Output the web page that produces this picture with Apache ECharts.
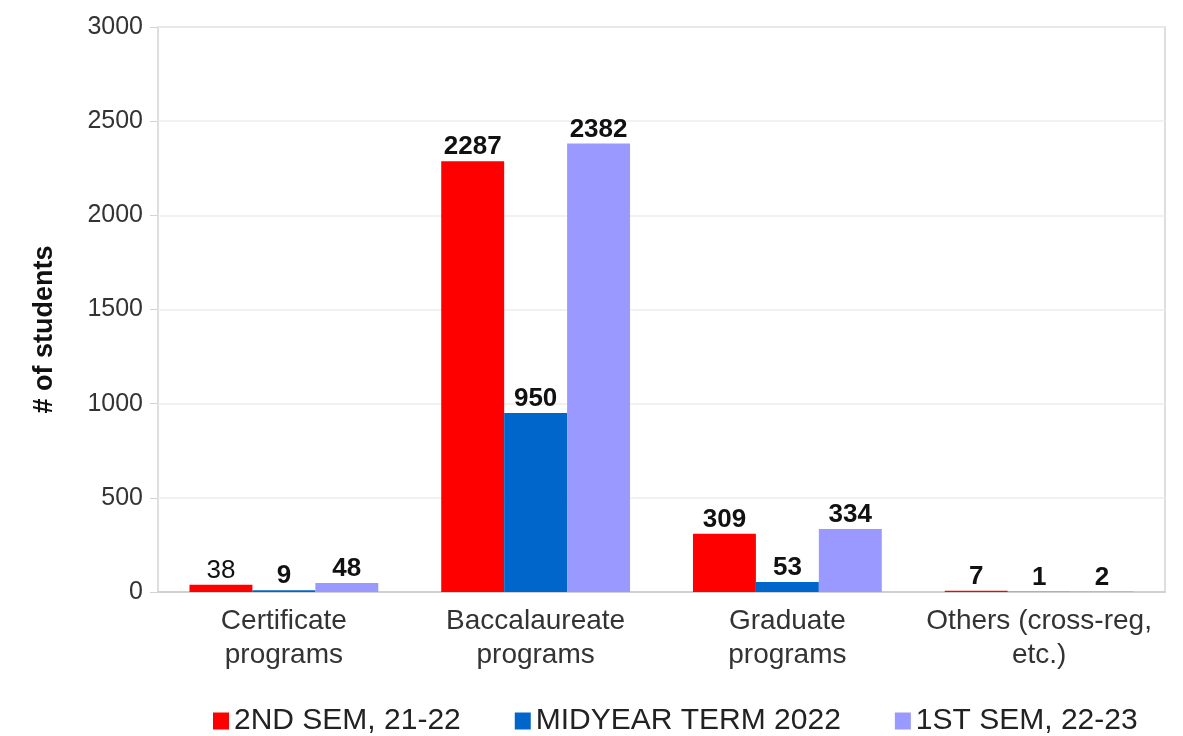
<!DOCTYPE html>
<html>
<head>
<meta charset="utf-8">
<script src="https://cdn.jsdelivr.net/npm/echarts@6/dist/echarts.min.js"></script>
<style>
  html, body { margin: 0; padding: 0; background: #fff; }
  #chart { width: 1183px; height: 736px; }
</style>
</head>
<body>
<div id="chart"></div>
<script>
    var categories = ['Certificate\nprograms', 'Baccalaureate\nprograms', 'Graduate\nprograms', 'Others (cross-reg,\netc.)']
    var seriesNames = ['2ND SEM, 21-22', 'MIDYEAR TERM 2022', '1ST SEM, 22-23']
    var sem2 = [38, 2287, 309, 7]
    var midyear = [9, 950, 53, 1]
    var sem1 = [48, 2382, 334, 2]
    var yTicks = [0, 500, 1000, 1500, 2000, 2500, 3000]
    var colors = ['#FF0000', '#0066CC', '#9999FF']

    var font = '"Liberation Sans", Arial, sans-serif'

    function makeSeries(name, values, color, plainIdx) {
        return {
            name: name,
            type: 'bar',
            barGap: '0%',
            barCategoryGap: '25%',
            itemStyle: { color: color },
            data: values.map(function (v, i) {
                var d = { value: v }
                // the first label is drawn in normal weight in the original
                if (plainIdx.indexOf(i) >= 0) {
                    d.label = { fontWeight: 'normal' }
                }
                return d
            }),
            label: {
                show: true,
                position: 'top',
                distance: 1,
                color: '#111',
                fontFamily: font,
                fontSize: 26,
                fontWeight: 'bold'
            }
        }
    }

    var chart = echarts.init(document.getElementById('chart'))
    chart.setOption({
        animation: false,
        grid: {
            left: 158,
            right: 18,
            top: 27,
            bottom: 144,
            show: true,
            borderColor: '#d4d4d4',
            borderWidth: 1.5
        },
        legend: {
            top: 701,
            left: 208,
            itemWidth: 16,
            itemHeight: 17,
            itemGap: 54,
            icon: 'rect',
            textStyle: { fontFamily: font, fontSize: 30, color: '#222' },
            data: seriesNames
        },
        xAxis: {
            type: 'category',
            data: categories,
            axisLine: { lineStyle: { color: '#c8c8c8', width: 1.5 } },
            axisTick: { show: false },
            axisLabel: {
                interval: 0,
                color: '#333',
                fontFamily: font,
                fontSize: 28,
                lineHeight: 34,
                margin: 12
            }
        },
        yAxis: {
            type: 'value',
            min: 0,
            max: yTicks[yTicks.length - 1],
            interval: 500,
            name: '# of students',
            nameLocation: 'middle',
            nameGap: 100,
            nameTextStyle: {
                fontFamily: font,
                fontSize: 27,
                fontWeight: 'bold',
                color: '#111',
                padding: [0, 40, 0, 0]
            },
            axisLine: { show: false },
            axisTick: { show: true, length: 8, lineStyle: { color: '#d4d4d4' } },
            splitLine: { lineStyle: { color: '#ececec', width: 1.5 } },
            axisLabel: {
                color: '#333',
                fontFamily: font,
                fontSize: 25,
                margin: 15,
                formatter: function (v) { return String(v) }
            }
        },
        series: [
            makeSeries(seriesNames[0], sem2, colors[0], [0]),
            makeSeries(seriesNames[1], midyear, colors[1], []),
            makeSeries(seriesNames[2], sem1, colors[2], [])
        ]
    })
</script>
</body>
</html>
